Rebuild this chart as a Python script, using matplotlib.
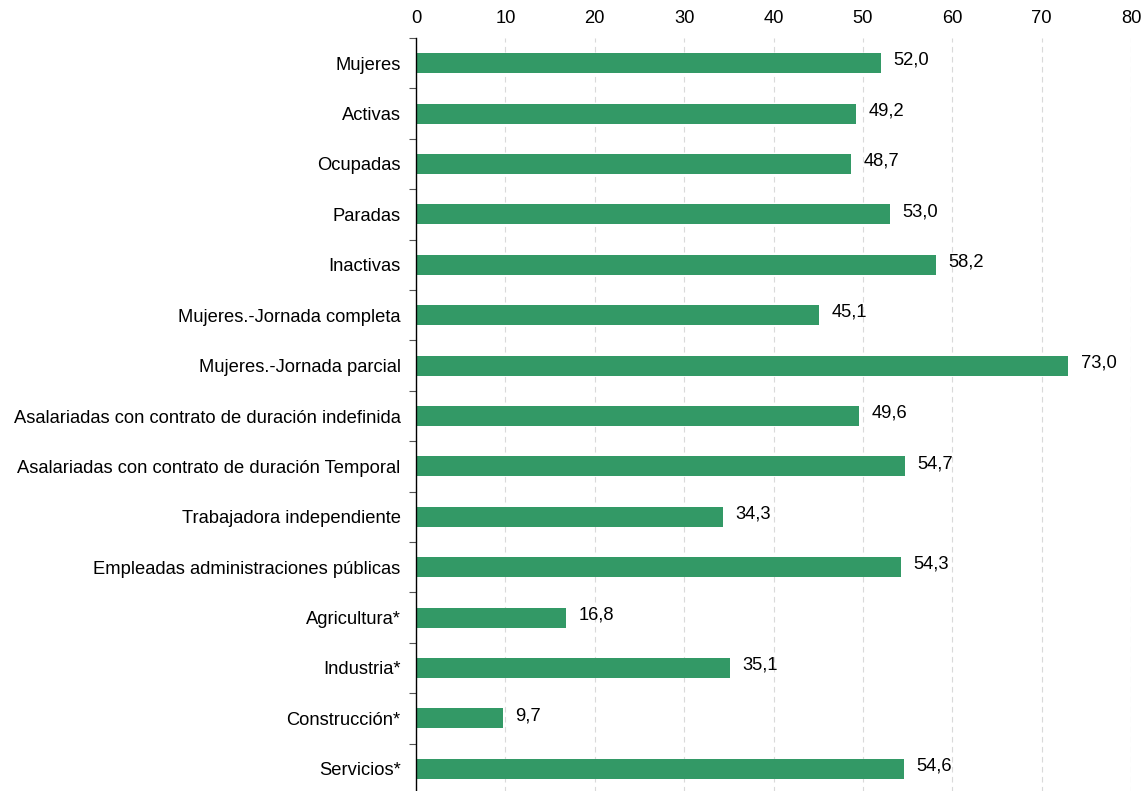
import matplotlib
matplotlib.use("Agg")
import matplotlib.pyplot as plt
import numpy as np

categories = ["Mujeres", "Activas", "Ocupadas", "Paradas", "Inactivas",
              "Mujeres.-Jornada completa", "Mujeres.-Jornada parcial",
              "Asalariadas con contrato de duración indefinida",
              "Asalariadas con contrato de duración Temporal",
              "Trabajadora independiente",
              "Empleadas administraciones públicas",
              "Agricultura*", "Industria*", "Construcción*", "Servicios*"]
values = [52.0, 49.2, 48.7, 53.0, 58.2, 45.1, 73.0, 49.6, 54.7, 34.3, 54.3,
          16.8, 35.1, 9.7, 54.6]
xticks = [0, 10, 20, 30, 40, 50, 60, 70, 80]

plt.rcParams['font.family'] = ['Liberation Sans', 'DejaVu Sans']
FS = 13.2

fig = plt.figure(figsize=(11.48, 7.91), dpi=100)
ax = fig.add_axes([416/1148, -3/791, (1131-416)/1148, (794-38)/791])

n = len(categories)
y = np.arange(n)
ax.barh(y, values, height=0.4, color="#339966", zorder=3)
ax.set_ylim(n - 0.5, -0.5)
ax.set_xlim(0, 80)
ax.set_yticks(y)
ax.set_yticklabels(categories, fontsize=FS)
ax.set_yticks(np.arange(n + 1) - 0.5, minor=True)
ax.tick_params(axis='y', which='major', length=0, pad=11)
ax.tick_params(axis='y', which='minor', length=5, width=0.8, color='#555555')
ax.xaxis.tick_top()
ax.set_xticks(xticks)
ax.set_xticklabels([str(t) for t in xticks], fontsize=FS)
ax.tick_params(axis='x', length=0, pad=8)
ax.grid(axis='x', color='#d9d9d9', linestyle=(0, (5, 4)), linewidth=0.8, zorder=0)
for s in ['top', 'right', 'bottom']:
    ax.spines[s].set_visible(False)
ax.spines['left'].set_color('black')
ax.spines['left'].set_linewidth(1.0)
ax.spines['left'].set_zorder(4)

for yi, v in zip(y, values):
    ax.annotate(f"{v:.1f}".replace('.', ','), xy=(v, yi), xytext=(9, 2),
                textcoords='offset points', va='center', ha='left', fontsize=FS)

fig.savefig("out.png", dpi=100)
